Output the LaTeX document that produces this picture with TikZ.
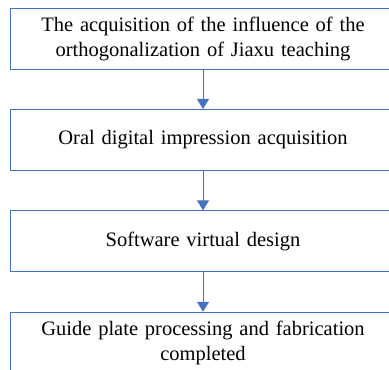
\documentclass[tikz,border=0pt]{standalone}
\usepackage{fontspec}
\setmainfont{Liberation Serif}
\usetikzlibrary{positioning,arrows.meta}
\definecolor{flowblue}{RGB}{68,114,196}
\tikzset{
  stepbox/.style={draw=flowblue, line width=0.9pt, minimum width=386pt, minimum height=61pt,
    text width=370pt, align=center, inner sep=0pt, font=\fontsize{20.5}{25}\selectfont},
  flowarrow/.style={draw=flowblue, line width=0.9pt, -{Triangle[width=12pt,length=10pt]}}
}

\begin{document}
\begin{tikzpicture}[x=1pt,y=1pt]
\useasboundingbox (0,0) rectangle (389,-370);
\clip (0,0) rectangle (389,-370);
\node[stepbox] (acquire) at (203,-38.5) {The acquisition of the influence of the\\orthogonalization of Jiaxu teaching};
\node[stepbox, below=39.5pt of acquire] (oral) {Oral digital impression acquisition};
\node[stepbox, below=39.5pt of oral] (design) {Software virtual design};
\node[stepbox, below=39.5pt of design] (plate) {Guide plate processing and fabrication\\completed};
\draw[flowarrow] (acquire) -- (oral);
\draw[flowarrow] (oral) -- (design);
\draw[flowarrow] (design) -- (plate);
\end{tikzpicture}
\end{document}
